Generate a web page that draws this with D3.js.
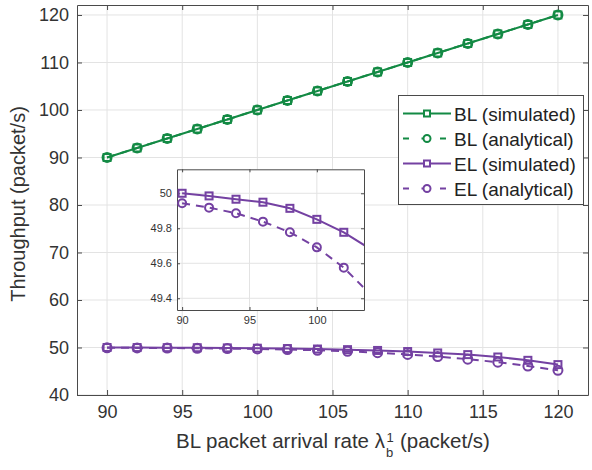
<!DOCTYPE html>
<html><head><meta charset="utf-8">
<script src="https://cdn.jsdelivr.net/npm/d3@7"></script>
<style>body{margin:0;background:#fff}svg{display:block;font-family:"Liberation Sans",Arial,sans-serif}</style>
</head><body><svg id="c" width="592" height="470"></svg>
<script>
const xValues = [90,92,94,96,98,100,102,104,106,108,110,112,114,116,118,120];
const blSimulated = [90,92,94,96,98,100,102,104,106,108,110,112,114,116,118,120];
const blAnalytical = [90,92,94,96,98,100,102,104,106,108,110,112,114,116,118,120];
const elSimulated = [50.0,49.985,49.966,49.949,49.914,49.851,49.777,49.68,49.55,49.38,49.15,48.85,48.5,48.0,47.3,46.4];
const elAnalytical = [49.943,49.918,49.886,49.838,49.777,49.691,49.575,49.42,49.2,48.9,48.55,48.1,47.55,46.9,46.1,45.2];
const xTicks = [90,95,100,105,110,115,120];
const yTicks = [40,50,60,70,80,90,100,110,120];
const insetXTicks = [90,95,100];
const insetYTicks = [49.4,49.6,49.8,50];
const seriesNames = ["BL (simulated)","BL (analytical)","EL (simulated)","EL (analytical)"];

const GREEN = "#138a44", PURPLE = "#7441a2", AX = "#4a4a4a", GRID = "#e3e3e3";
const series = [
  {name:seriesNames[0], vals:blSimulated, color:GREEN, dash:null, marker:"square"},
  {name:seriesNames[1], vals:blAnalytical, color:GREEN, dash:"8,6", marker:"circle"},
  {name:seriesNames[2], vals:elSimulated, color:PURPLE, dash:null, marker:"square"},
  {name:seriesNames[3], vals:elAnalytical, color:PURPLE, dash:"8,6", marker:"circle"}
];

const svg = d3.select("#c");

function drawAxes(g, x, y, xt, yt, fs, fmtY, labelOffX, labelOffY, tickLen){
  const [x0,x1] = x.range(), [y0,y1] = y.range();
  g.append("rect").attr("x",x0).attr("y",y1).attr("width",x1-x0).attr("height",y0-y1).attr("fill","#fff");
  g.selectAll(null).data(xt).enter().append("line")
    .attr("x1",d=>x(d)).attr("x2",d=>x(d)).attr("y1",y0).attr("y2",y1).attr("stroke",GRID).attr("stroke-width",1);
  g.selectAll(null).data(yt).enter().append("line")
    .attr("y1",d=>y(d)).attr("y2",d=>y(d)).attr("x1",x0).attr("x2",x1).attr("stroke",GRID).attr("stroke-width",1);
  const bx = g.append("g").attr("transform",`translate(0,${y0})`)
    .call(d3.axisBottom(x).tickValues(xt).tickSize(-tickLen).tickPadding(labelOffX).tickSizeOuter(0));
  const tx = g.append("g").attr("transform",`translate(0,${y1})`)
    .call(d3.axisTop(x).tickValues(xt).tickSize(-tickLen).tickFormat("").tickSizeOuter(0));
  const ly = g.append("g").attr("transform",`translate(${x0},0)`)
    .call(d3.axisLeft(y).tickValues(yt).tickSize(-tickLen).tickPadding(labelOffY).tickFormat(fmtY).tickSizeOuter(0));
  const ry = g.append("g").attr("transform",`translate(${x1},0)`)
    .call(d3.axisRight(y).tickValues(yt).tickSize(-tickLen).tickFormat("").tickSizeOuter(0));
  [bx,tx,ly,ry].forEach(a=>{
    a.select(".domain").attr("stroke",AX).attr("stroke-width",1);
    a.selectAll(".tick line").attr("stroke",AX);
    a.selectAll("text").attr("fill","#333").attr("font-size",fs).attr("font-family","Liberation Sans, Arial, sans-serif");
  });
}

function drawSeries(g, x, y, clipId, sq, r){
  const gg = g.append("g").attr("clip-path",`url(#${clipId})`);
  series.forEach(s=>{
    const pts = xValues.map((xv,i)=>[xv,s.vals[i]]);
    gg.append("path").datum(pts)
      .attr("d", d3.line().x(d=>x(d[0])).y(d=>y(d[1])))
      .attr("fill","none").attr("stroke",s.color).attr("stroke-width",2)
      .attr("stroke-dasharray",s.dash);
    pts.forEach(p=>{
      if(s.marker==="square"){
        gg.append("rect").attr("x",x(p[0])-sq/2).attr("y",y(p[1])-sq/2).attr("width",sq).attr("height",sq)
          .attr("fill","none").attr("stroke",s.color).attr("stroke-width",2);
      } else {
        gg.append("circle").attr("cx",x(p[0])).attr("cy",y(p[1])).attr("r",r)
          .attr("fill","none").attr("stroke",s.color).attr("stroke-width",2);
      }
    });
  });
}

const x = d3.scaleLinear().domain([88,122]).range([77,588]);
const y = d3.scaleLinear().domain([40,122.1]).range([395,5]);
const defs = svg.append("defs");
defs.append("clipPath").attr("id","mainClip").append("rect").attr("x",70).attr("y",0).attr("width",522).attr("height",400);
defs.append("clipPath").attr("id","insetClip").append("rect").attr("x",177).attr("y",169).attr("width",187).attr("height",141);

const main = svg.append("g");
drawAxes(main, x, y, xTicks, yTicks, "18px", d=>d, 10, 8, 5);
drawSeries(main, x, y, "mainClip", 7, 4.5);

// axis labels
svg.append("text").attr("transform","translate(25,204) rotate(-90)").attr("text-anchor","middle")
  .attr("font-size","20px").attr("fill","#333").text("Throughput (packet/s)");
const xl = svg.append("text").attr("y",448).attr("font-size","20.5px").attr("fill","#333").text("BL packet arrival rate λ");
const w1 = xl.node().getComputedTextLength();
const xr = svg.append("text").attr("y",448).attr("font-size","20.5px").attr("fill","#333").text("(packet/s)");
const w2 = xr.node().getComputedTextLength();
const gap = 15;
const total = w1 + gap + w2;
const startX = 333 - total/2;
xl.attr("x",startX);
xr.attr("x",startX+w1+gap);
svg.append("text").attr("x",startX+w1+1.5).attr("y",442).attr("font-size","13px").attr("fill","#333").text("1");
svg.append("text").attr("x",startX+w1+1).attr("y",457).attr("font-size","13px").attr("fill","#333").text("b");

// inset
const ix = d3.scaleLinear().domain([89.62,103.5]).range([177,364]);
const iy = d3.scaleLinear().domain([49.333,50.137]).range([310,169.3]);
const inset = svg.append("g");
drawAxes(inset, ix, iy, insetXTicks, insetYTicks, "11px", d=>d3.format("")(+d.toFixed(1)), 6, 5, 3);
drawSeries(inset, ix, iy, "insetClip", 7, 4);

// legend
const lg = svg.append("g");
lg.append("rect").attr("x",398.5).attr("y",95.5).attr("width",185).attr("height",109)
  .attr("fill","#fff").attr("stroke",AX).attr("stroke-width",1);
series.forEach((s,i)=>{
  const yy = 113.5 + i*25;
  lg.append("line").attr("x1",403).attr("x2",451).attr("y1",yy).attr("y2",yy)
    .attr("stroke",s.color).attr("stroke-width",2).attr("stroke-dasharray", s.dash ? "6,12.5" : null);
  if(s.marker==="square"){
    lg.append("rect").attr("x",424).attr("y",yy-3).attr("width",6).attr("height",6)
      .attr("fill","#fff").attr("stroke",s.color).attr("stroke-width",2);
  } else {
    lg.append("circle").attr("cx",427).attr("cy",yy).attr("r",3.5)
      .attr("fill","#fff").attr("stroke",s.color).attr("stroke-width",2);
  }
  lg.append("text").attr("x",454).attr("y",yy+7).attr("font-size","19px").attr("fill","#222").text(s.name);
});
</script></body></html>
